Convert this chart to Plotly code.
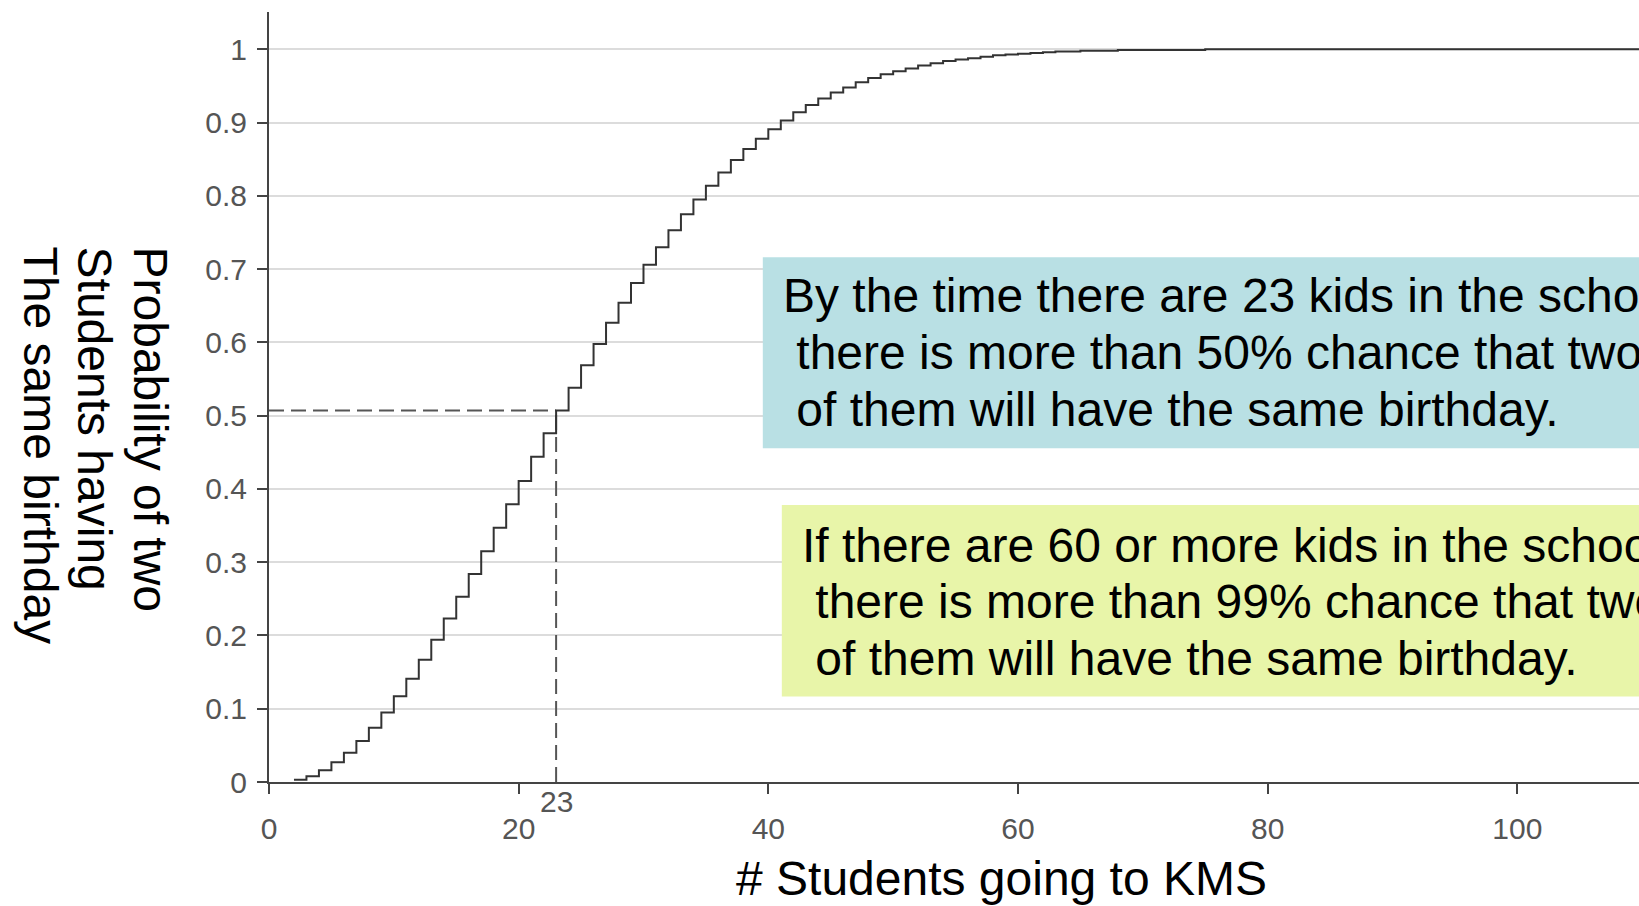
import plotly.graph_objects as go

# ---- data ----
students = [2, 3, 4, 5, 6, 7, 8, 9, 10, 11, 12, 13, 14, 15, 16, 17, 18, 19, 20,
            21, 22, 23, 24, 25, 26, 27, 28, 29, 30, 31, 32, 33, 34, 35, 36, 37, 38,
            39, 40, 41, 42, 43, 44, 45, 46, 47, 48, 49, 50, 51, 52, 53, 54, 55, 56,
            57, 58, 59, 60, 61, 62, 63, 64, 65, 66, 67, 68, 69, 70, 75, 80, 90, 100, 110]
probability = [0.003, 0.008, 0.016, 0.027, 0.040, 0.056, 0.074, 0.095, 0.117, 0.141,
               0.167, 0.194, 0.223, 0.253, 0.284, 0.315, 0.347, 0.379, 0.411, 0.444,
               0.476, 0.507, 0.538, 0.569, 0.598, 0.627, 0.654, 0.681, 0.706, 0.730,
               0.753, 0.775, 0.795, 0.814, 0.832, 0.849, 0.864, 0.878, 0.891, 0.903,
               0.914, 0.924, 0.933, 0.941, 0.948, 0.955, 0.961, 0.966, 0.970, 0.974,
               0.978, 0.981, 0.984, 0.986, 0.988, 0.990, 0.992, 0.993, 0.994, 0.995,
               0.996, 0.997, 0.997, 0.998, 0.998, 0.998, 0.999, 0.999, 0.999, 1.0,
               1.0, 1.0, 1.0, 1.0]
marker_students = 23
marker_prob = 0.507
x_ticks = [0, 20, 40, 60, 80, 100]
y_ticks = [0, 0.1, 0.2, 0.3, 0.4, 0.5, 0.6, 0.7, 0.8, 0.9, 1]
y_tick_text = ["0", "0.1", "0.2", "0.3", "0.4", "0.5", "0.6", "0.7", "0.8", "0.9", "1"]
y_title_lines = ["Probability of two", "Students having", "The same birthday"]
x_title = "# Students going to KMS"
box1_lines = ["By the time there are 23 kids in the school,",
              "\u00a0there is more than 50% chance that two",
              "\u00a0of them will have the same birthday."]
box2_lines = ["If there are 60 or more kids in the school,",
              "\u00a0there is more than 99% chance that two",
              "\u00a0of them will have the same birthday."]

W, H = 1639, 906
L, T, B = 269.3, 11.7, 782.0
PW, PH = W - L, B - T


def px(xp):
    return (xp - L) / PW


def py(yp):
    return (B - yp) / PH


FONT = "Arial, Liberation Sans, sans-serif"
BIG = 48

fig = go.Figure()
fig.add_trace(go.Scatter(x=[0, marker_students], y=[marker_prob, marker_prob], mode="lines",
                         line=dict(color="#555", width=2, dash="15px,7px"), hoverinfo="skip"))
fig.add_trace(go.Scatter(x=[marker_students, marker_students], y=[0, marker_prob], mode="lines",
                         line=dict(color="#555", width=2, dash="15px,7px"), hoverinfo="skip"))
fig.add_trace(go.Scatter(x=students, y=probability, mode="lines", line_shape="hv",
                         line=dict(color="#333", width=2)))

shapes = [
    dict(type="rect", xref="paper", yref="paper", x0=px(763), x1=1.1, y0=py(448), y1=py(257),
         fillcolor="#b9e0e4", line=dict(width=0), layer="above"),
    dict(type="rect", xref="paper", yref="paper", x0=px(782), x1=1.1, y0=py(696.5), y1=py(505),
         fillcolor="#e8f5a9", line=dict(width=0), layer="above"),
]

ann = []
for t, ym in zip(box1_lines, [295, 352, 409]):
    ann.append(dict(text=t, xref="paper", yref="paper", x=px(781), y=py(ym), xanchor="left",
                    yanchor="middle", showarrow=False, font=dict(family=FONT, size=BIG, color="#000")))
for t, ym in zip(box2_lines, [545, 601, 658]):
    ann.append(dict(text=t, xref="paper", yref="paper", x=px(800), y=py(ym), xanchor="left",
                    yanchor="middle", showarrow=False, font=dict(family=FONT, size=BIG, color="#000")))
for t, xc in zip(y_title_lines, [151, 95, 41]):
    ann.append(dict(text=t, xref="paper", yref="paper", x=px(xc), y=py(244), xanchor="center",
                    yanchor="top", textangle=90, showarrow=False,
                    font=dict(family=FONT, size=BIG, color="#000")))
ann.append(dict(text=x_title, xref="paper", yref="paper", x=px(1002), y=py(879), xanchor="center",
                yanchor="middle", showarrow=False, font=dict(family=FONT, size=BIG, color="#000")))
ann.append(dict(text=str(marker_students), xref="x", yref="paper", x=marker_students, y=py(802),
                xanchor="center", yanchor="middle", showarrow=False,
                font=dict(family=FONT, size=30, color="#555")))

fig.update_layout(
    width=W, height=H,
    margin=dict(l=L, r=0, t=T, b=H - B, pad=0),
    paper_bgcolor="white", plot_bgcolor="white",
    showlegend=False,
    shapes=shapes, annotations=ann,
    xaxis=dict(range=[0, 109.75], tickvals=x_ticks, showgrid=False, zeroline=False,
               showline=True, linecolor="#444", linewidth=2, ticks="outside", ticklen=10,
               tickwidth=2, tickcolor="#444", ticklabelstandoff=9,
               tickfont=dict(family=FONT, size=30, color="#555")),
    yaxis=dict(range=[0, 1.051], tickvals=y_ticks, ticktext=y_tick_text, showgrid=True,
               gridcolor="#dcdcdc", gridwidth=2, zeroline=False,
               showline=True, linecolor="#444", linewidth=2, ticks="outside", ticklen=10,
               tickwidth=2, tickcolor="#444", ticklabelstandoff=4,
               tickfont=dict(family=FONT, size=30, color="#555")),
)

fig.write_html("out.html", config={"displayModeBar": False},
               post_script="document.body.style.margin='0';document.body.style.overflow='hidden';")
